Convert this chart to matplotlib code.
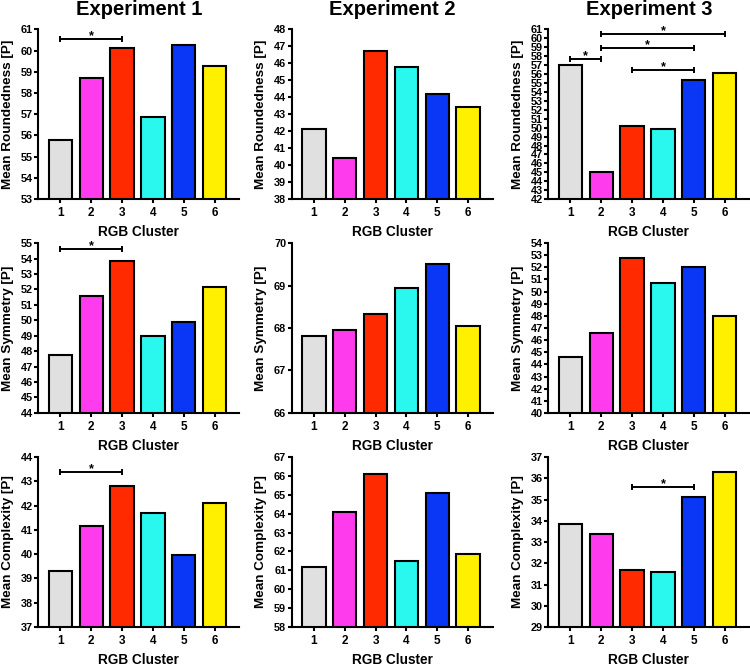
import matplotlib
matplotlib.use("Agg")
import matplotlib.pyplot as plt
import numpy as np

plt.rcParams['font.family'] = ['Liberation Sans', 'DejaVu Sans']
plt.rcParams['font.weight'] = 'bold'

clusters = [1, 2, 3, 4, 5, 6]
bar_colors = ['#e0e0e0', '#ff3ced', '#ff2a00', '#2af7ee', '#0a36f5', '#fff000']
experiments = ['Experiment 1', 'Experiment 2', 'Experiment 3']
measures = ['Mean Roundedness [P]', 'Mean Symmetry [P]', 'Mean Complexity [P]']

# row 1: roundness
round_exp1 = [55.8, 58.7, 60.1, 56.85, 60.25, 59.25]
round_exp2 = [42.15, 40.4, 46.7, 45.8, 44.2, 43.4]
round_exp3 = [57.0, 45.0, 50.2, 49.9, 55.3, 56.1]
# row 2: symmetry
sym_exp1 = [47.75, 51.55, 53.85, 49.0, 49.9, 52.15]
sym_exp2 = [67.8, 67.95, 68.32, 68.95, 69.5, 68.05]
sym_exp3 = [44.65, 46.6, 52.75, 50.75, 52.0, 48.0]
# row 3: complexity
comp_exp1 = [39.3, 41.15, 42.8, 41.7, 39.95, 42.1]
comp_exp2 = [61.2, 64.1, 66.1, 61.5, 65.1, 61.85]
comp_exp3 = [33.85, 33.4, 31.7, 31.6, 35.1, 36.3]

values = [[round_exp1, round_exp2, round_exp3],
          [sym_exp1, sym_exp2, sym_exp3],
          [comp_exp1, comp_exp2, comp_exp3]]

yranges = [[(53, 61), (38, 48), (42, 61)],
           [(44, 55), (66, 70), (40, 54)],
           [(37, 44), (58, 67), (29, 37)]]

# significance brackets: (from cluster, to cluster, height)
sig = {(0, 0): [(1, 3, 60.55)],
       (0, 2): [(1, 2, 57.65), (2, 6, 60.5), (2, 5, 58.9), (3, 5, 56.4)],
       (1, 0): [(1, 3, 54.6)],
       (2, 0): [(1, 3, 43.38)],
       (2, 2): [(3, 5, 35.6)]}

fig = plt.figure(figsize=(7.5, 6.66), dpi=100)

lefts = [0.051, 0.389, 0.731]
bottoms = [0.701, 0.380, 0.0586]
w = 0.268
h = 0.255

for r in range(3):
    for c in range(3):
        ax = fig.add_axes([lefts[c], bottoms[r], w, h])
        lo, hi = yranges[r][c]
        ax.bar(clusters, values[r][c], width=0.76, bottom=0, color=bar_colors,
               edgecolor='black', linewidth=1.5, zorder=2)
        ax.set_ylim(lo, hi)
        ax.set_xlim(0.28, 6.8)
        ax.set_yticks(np.arange(lo, hi + 1, 1))
        ax.set_xticks(clusters)
        ax.spines['top'].set_visible(False)
        ax.spines['right'].set_visible(False)
        ax.spines['left'].set_linewidth(1.5)
        ax.spines['bottom'].set_linewidth(1.5)
        ax.tick_params(axis='both', width=1.5, length=3, direction='out', pad=1)
        ax.tick_params(axis='y', labelsize=7.8)
        ax.tick_params(axis='x', labelsize=8.5, pad=3)
        for lab in ax.get_xticklabels() + ax.get_yticklabels():
            lab.set_fontweight('bold')
        ax.set_ylabel(measures[r], fontsize=9.7, fontweight='bold')
        ax.yaxis.set_label_coords(-0.122, 0.5)
        ax.set_xlabel('RGB Cluster', fontsize=9.8, fontweight='bold', labelpad=4)
        if r == 0:
            ax.set_title(experiments[c], fontsize=14.5, fontweight='bold', pad=10)
        for x1, x2, y in sig.get((r, c), []):
            ax.plot([x1, x2], [y, y], color='black', lw=1.4, marker='|',
                    markersize=5, markeredgewidth=1.4, clip_on=False, zorder=3)
            ax.annotate('*', xy=((x1 + x2) / 2, y), xytext=(0, 2),
                        textcoords='offset points', ha='center', va='center',
                        fontsize=9, fontweight='bold')

fig.savefig('out.png', dpi=100)
